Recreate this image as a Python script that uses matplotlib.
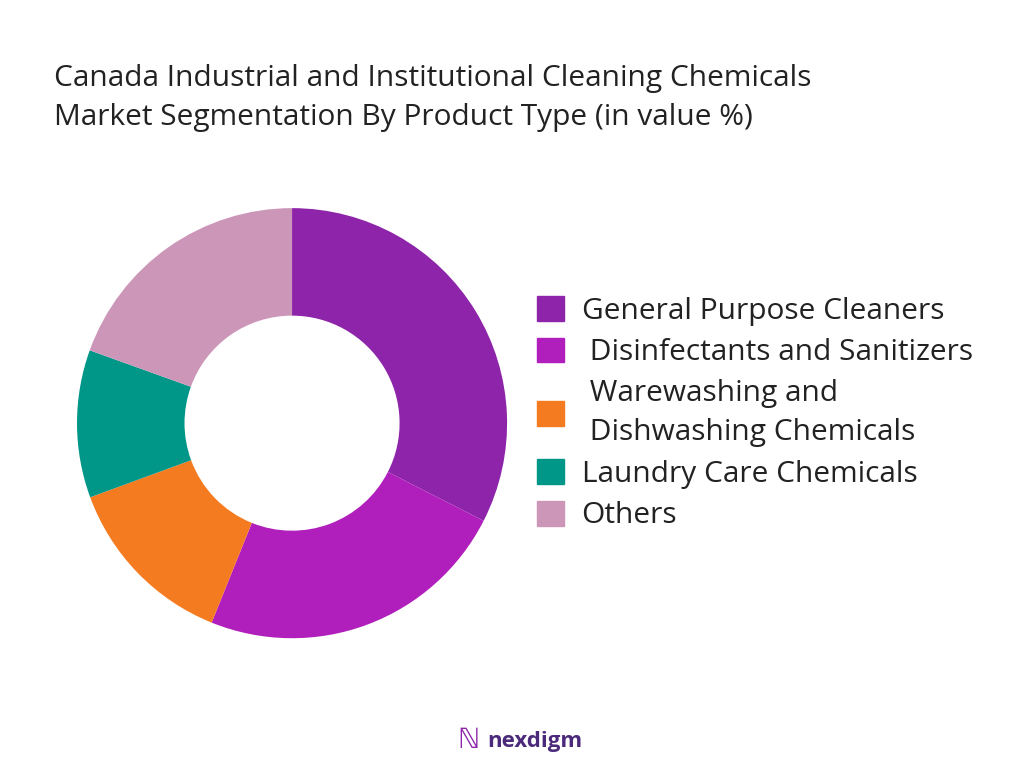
import matplotlib
matplotlib.use("Agg")
import matplotlib.pyplot as plt
from matplotlib.patches import Patch

labels = ["General Purpose Cleaners", " Disinfectants and Sanitizers", " Warewashing and\n Dishwashing Chemicals", "Laundry Care Chemicals", "Others"]
values = [32.5, 23.6, 13.3, 11.1, 19.5]
colors = ["#8E24AA", "#B01EBB", "#F47B20", "#009688", "#CC96B8"]

plt.rcParams['font.family'] = ['Open Sans', 'DejaVu Sans']
fig = plt.figure(figsize=(10.24, 7.68), dpi=100)
ax = fig.add_axes([0.0752, 0.169, 0.42, 0.56])
ax.pie(values, colors=colors, startangle=90, counterclock=False, radius=1,
       wedgeprops=dict(width=0.5, edgecolor='none'))
ax.set_xlim(-1, 1); ax.set_ylim(-1, 1)
ax.set_aspect('equal')
fig.text(0.053, 0.872, "Canada Industrial and Institutional Cleaning Chemicals\nMarket Segmentation By Product Type (in value %)",
         fontsize=21.5, va='center', ha='left', color='#222222', linespacing=1.45)
handles = [Patch(color=c) for c in colors]
leg = fig.legend(handles, labels, loc='center left', bbox_to_anchor=(0.498, 0.462), frameon=False,
           fontsize=21.5, handlelength=0.9, handleheight=0.9, labelspacing=0.4, handletextpad=0.6,
           labelcolor='#222222')
for t in leg.get_texts():
    t.set_linespacing(1.45)
fig.text(0.476, 0.035, "nexdigm", fontsize=16, fontweight='bold', color='#4B2A7B', ha='left', va='center')
fig.text(0.447, 0.035, "ℕ", fontsize=20, color='#8E24AA', ha='left', va='center')
fig.savefig("out.png", dpi=100)
